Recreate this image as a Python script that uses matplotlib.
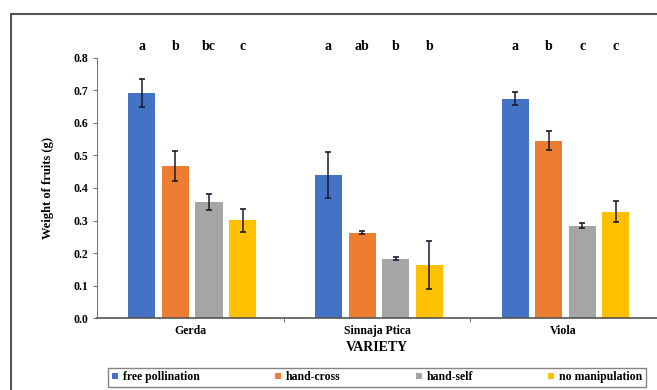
import numpy as np
import matplotlib.pyplot as plt
from matplotlib.patches import Rectangle

varieties = ['Gerda', 'Sinnaja Ptica', 'Viola']
treatments = ['free pollination', 'hand-cross', 'hand-self', 'no manipulation']
colors = ['#4472C4', '#ED7D31', '#A5A5A5', '#FFC000']

# mean weight per treatment, one list per variety order
free_poll = [0.692, 0.440, 0.675]
hand_cross = [0.468, 0.262, 0.546]
hand_self = [0.358, 0.183, 0.284]
no_manip = [0.301, 0.163, 0.327]
means = [free_poll, hand_cross, hand_self, no_manip]

err_free = [0.042, 0.070, 0.020]
err_cross = [0.045, 0.005, 0.030]
err_self = [0.025, 0.005, 0.007]
err_none = [0.035, 0.073, 0.033]
errs = [err_free, err_cross, err_self, err_none]

letters = [['a', 'b', 'bc', 'c'],
           ['a', 'ab', 'b', 'b'],
           ['a', 'b', 'c', 'c']]

plt.rcParams['font.family'] = ['Liberation Serif', 'DejaVu Serif']
plt.rcParams['font.weight'] = 'bold'

fig = plt.figure(figsize=(6.57, 3.9), dpi=100)
ax = fig.add_axes([0.1476, 0.1846, 0.8524, 0.6667])

x = np.arange(len(varieties))
w = 0.145
step = 0.18
for i in range(4):
    pos = x + (i - 1.5) * step + 0.01
    ax.bar(pos, means[i], w, color=colors[i], label=treatments[i], zorder=2)
    ax.errorbar(pos, means[i], yerr=errs[i], fmt='none', ecolor='#1a1a2e',
                elinewidth=1.1, capsize=2.5, capthick=1.2, zorder=3)
    for j in range(len(varieties)):
        ax.text(pos[j], 0.835, letters[j][i], ha='center', va='center',
                fontsize=10, fontweight='bold', clip_on=False)

ax.set_xlim(-0.5, 2.5)
ax.set_ylim(0, 0.8)
ax.set_yticks(np.arange(0, 0.81, 0.1))
ax.set_yticklabels([f'{v:.1f}' for v in np.arange(0, 0.81, 0.1)])
ax.set_xticks(x)
ax.set_xticklabels(varieties)
ax.set_xticks([0.5, 1.5], minor=True)
ax.tick_params(axis='x', which='major', length=0, labelsize=8.5, pad=5)
ax.tick_params(axis='x', which='minor', length=3, color='#555555')
ax.tick_params(axis='y', labelsize=8.5, length=3, color='#777777')
for s in ['top', 'right']:
    ax.spines[s].set_visible(False)
ax.spines['left'].set_color('#777777')
ax.spines['bottom'].set_color('#555555')
ax.spines['bottom'].set_linewidth(1.2)

ax.set_ylabel('Weight of fruits (g)', fontsize=9, fontweight='bold', labelpad=14)
ax.set_xlabel('VARIETY', fontsize=10, fontweight='bold', labelpad=3)

leg = fig.legend(loc='center', bbox_to_anchor=(0.574, 0.033), ncol=4,
                 fontsize=8.5, handlelength=0.5, handleheight=0.5,
                 handletextpad=0.4, columnspacing=6.4, frameon=True,
                 fancybox=False, borderpad=0.3, borderaxespad=0)
leg.get_frame().set_edgecolor('#666666')
leg.get_frame().set_linewidth(1.0)

# outer chart frame (cropped at right and bottom)
fig.patches.append(Rectangle((0.0167, -0.1), 1.2, 1.064, transform=fig.transFigure,
                             fill=False, edgecolor='#555555', linewidth=1.5))

fig.savefig('out.png', dpi=100)
